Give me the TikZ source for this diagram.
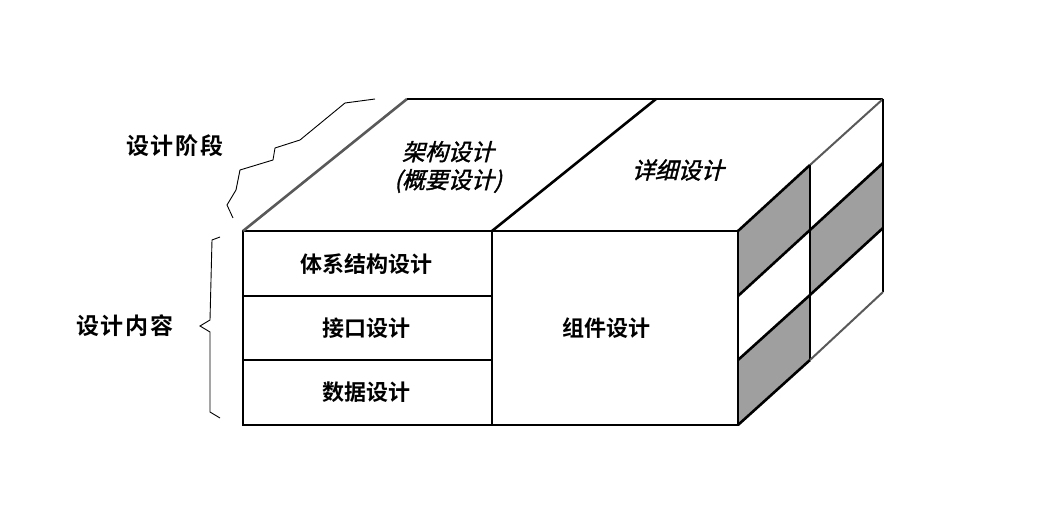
\documentclass[tikz,border=0pt]{standalone}
\usepackage{fontspec}
\newfontfamily\cjk{Noto Sans CJK SC}
\newfontfamily\cjkb{Noto Sans CJK SC Bold}
\newfontfamily\cjki[FakeSlant=0.25,FakeBold=1.5]{Noto Sans CJK SC}
\begin{document}
\begin{tikzpicture}[x=1pt,y=-1pt,
  edge/.style={line width=2.6pt,line join=miter},
  thin/.style={gray!70!black,line width=2pt},
  shade/.style={fill=gray!75},
  lab/.style={font=\cjkb\fontsize{22}{24}\selectfont},
  side/.style={font=\cjkb\fontsize{23}{25}\selectfont,text width=130pt,align=center},
  ital/.style={font=\cjki\fontsize{23}{28}\selectfont,align=center}]
\useasboundingbox (0,0) rectangle (1061,510);
% right face shading
\fill[shade] (738,231)--(810,165)--(810,230)--(738,296)--cycle;
\fill[shade] (738,360)--(810,295)--(810,360)--(738,425)--cycle;
\fill[shade] (810,230)--(883,163)--(883,228)--(810,295)--cycle;
% front face
\draw[edge] (243,231) rectangle (738,425);
\draw[edge] (492,231)--(492,425);
\draw[edge] (243,296)--(492,296);
\draw[edge] (243,360)--(492,360);
% top face
\draw[thin,line width=2.6pt] (243,231)--(407,99);
\draw[edge] (407,99)--(883,99);
\draw[edge] (492,231)--(656,99);
\draw[edge] (738,231)--(810,165);
\draw[thin] (810,165)--(883,99);
% right face
\draw[edge] (810,165)--(810,360);
\draw[edge] (883,99)--(883,292);
\draw[edge] (738,296)--(810,230);
\draw[edge] (738,360)--(810,295);
\draw[edge] (738,425)--(810,360);
\draw[edge] (810,230)--(883,163);
\draw[edge] (810,295)--(883,228);
\draw[thin] (810,360)--(883,292);
% braces
\draw[line width=0.9pt] (233,218)--(227,205)--(236,190)--(240,170)--(273,160)--(275,148)--(300,140)--(345,103)--(375,99);
\draw[line width=0.9pt] (220,237)--(212,240)--(210,320)--(200,326)--(210,332)--(210,412)--(220,418);
% labels
\node[side] (phase) at (175,146) {设\hspace{2pt}计\hspace{2pt}阶\hspace{2pt}段};
\node[side] (content) at (125,326) {设\hspace{2pt}计\hspace{2pt}内\hspace{2pt}容};
\node[ital] (arch) at (448,167) {架构设计\\(概要设计)};
\node[ital] (detail) at (678,170) {详细设计};
\node[lab] (sys) at (366,264) {体系结构设计};
\node[lab] (iface) at (366,328) {接口设计};
\node[lab] (data) at (366,392) {数据设计};
\node[lab] (comp) at (606,328) {组件设计};
\end{tikzpicture}
\end{document}
